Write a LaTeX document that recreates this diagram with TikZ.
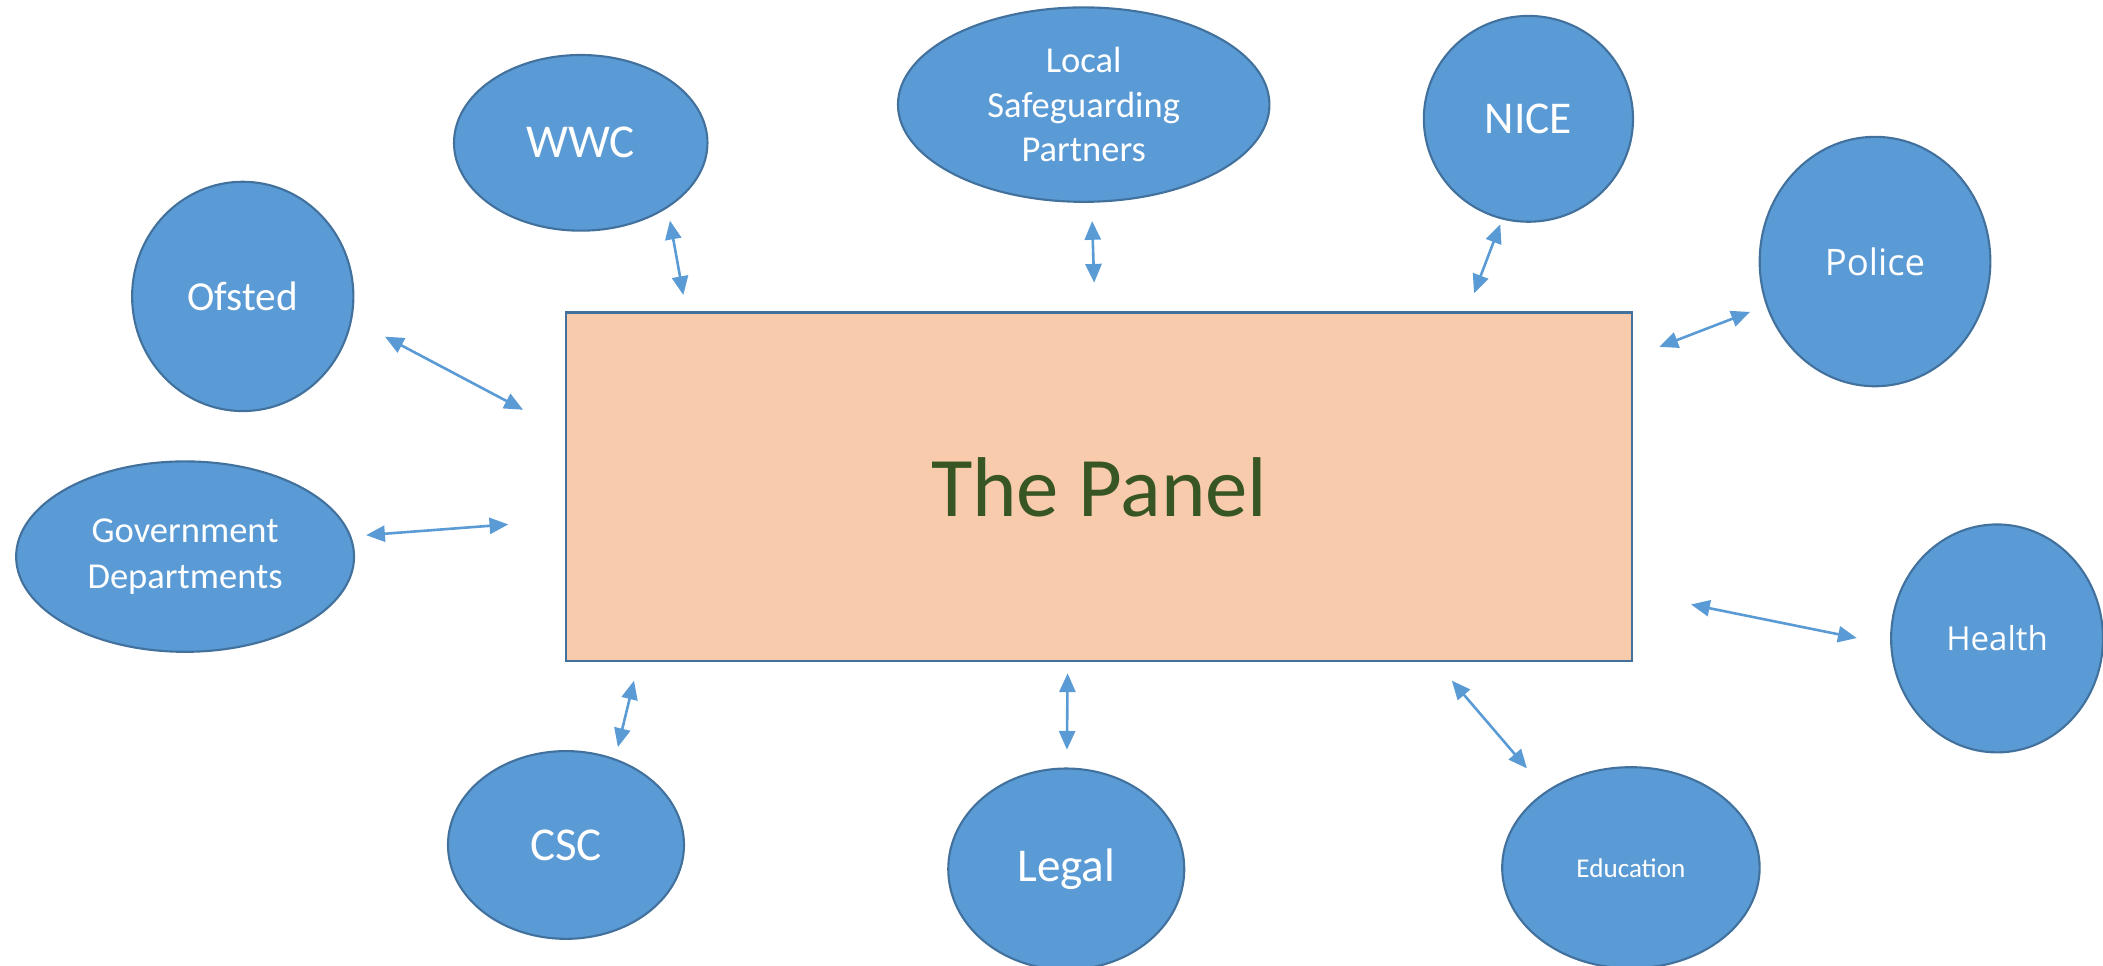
\documentclass[tikz,border=0pt]{standalone}
\usepackage{fontspec}
\setmainfont{Carlito}
\newfontfamily\roundfont{Open Sans}
\usepackage{tikz}
\usetikzlibrary{shapes.geometric,arrows.meta}

\definecolor{agencyblue}{HTML}{5B9BD5}
\definecolor{rimblue}{HTML}{41719C}
\definecolor{panelpeach}{HTML}{F8CBAD}
\definecolor{panelgreen}{HTML}{375623}

\newcommand{\fsz}[2]{\fontsize{#1}{#2}\selectfont}

\begin{document}
\begin{tikzpicture}[x=0.02cm, y=-0.02cm,
    agency/.style={draw=rimblue, fill=agencyblue, ellipse, line width=0.9pt, inner sep=0pt, text=white, align=center},
    link/.style={<->, >={Triangle[length=0.28cm, width=0.24cm]}, draw=agencyblue, line width=1.1pt}]
    \useasboundingbox (0,0) rectangle (1568,720);

    % the panel in the middle
    \node (panel) [draw=rimblue, fill=panelpeach, line width=0.9pt, minimum width=15.9cm, minimum height=5.2cm, text=panelgreen, font=\fsz{36}{40}] at (819.5,363) {The Panel};

    % agencies round the panel
    \node (ofsted) [agency, minimum width=3.3cm, minimum height=3.42cm, font=\fsz{17.5}{21}] at (181,221) {Ofsted};
    \node (wwc) [agency, minimum width=3.78cm, minimum height=2.62cm, font=\fsz{20}{24}] at (433,106.5) {WWC};
    \node (lsp) [agency, minimum width=5.54cm, minimum height=2.9cm, font=\fsz{15.5}{18.8}] at (808,78) {Local\\Safeguarding\\Partners};
    \node (nice) [agency, minimum width=3.12cm, minimum height=3.07cm, font=\fsz{19.3}{23}] at (1139.6,88.6) {NICE};
    \node (police) [agency, minimum width=3.44cm, minimum height=3.72cm, font=\roundfont\fsz{15.5}{19}] at (1398,195) {Police};
    \node (health) [agency, minimum width=3.16cm, minimum height=3.4cm, font=\roundfont\fsz{14}{17}] at (1489,476) {Health};
    \node (education) [agency, minimum width=3.84cm, minimum height=3cm, font=\fsz{11.5}{14}] at (1216,647) {Education};
    \node (legal) [agency, minimum width=3.52cm, minimum height=3cm, font=\fsz{20}{24}] at (795,648) {Legal};
    \node (csc) [agency, minimum width=3.52cm, minimum height=2.8cm, font=\fsz{20}{24}] at (422,630) {CSC};
    \node (govt) [agency, minimum width=5.04cm, minimum height=2.84cm, font=\fsz{15.5}{19.4}] at (138,415) {Government\\Departments};

    % free arrow ends
    \coordinate (ofsted-end) at (287,251);   \coordinate (ofsted-tip) at (390,305.5);
    \coordinate (govt-end) at (273,399);     \coordinate (govt-tip) at (379,391);
    \coordinate (wwc-end) at (499.5,164.5);  \coordinate (wwc-tip) at (509.5,220);
    \coordinate (lsp-end) at (814.3,164.8);  \coordinate (lsp-tip) at (815.8,210.8);
    \coordinate (nice-end) at (1118.6,167.3); \coordinate (nice-tip) at (1099,218.7);
    \coordinate (police-end) at (1304.8,232.6); \coordinate (police-tip) at (1237.2,258.6);
    \coordinate (health-end) at (1384.4,475.7); \coordinate (health-tip) at (1260.8,450.7);
    \coordinate (edu-end) at (1138.5,572.9);  \coordinate (edu-tip) at (1082.5,507.5);
    \coordinate (legal-end) at (795.5,559);  \coordinate (legal-tip) at (796,502);
    \coordinate (csc-end) at (460.7,557);    \coordinate (csc-tip) at (472.7,507.5);

    \draw[link] (ofsted-end) -- (ofsted-tip);
    \draw[link] (govt-end) -- (govt-tip);
    \draw[link] (wwc-end) -- (wwc-tip);
    \draw[link] (lsp-end) -- (lsp-tip);
    \draw[link] (nice-end) -- (nice-tip);
    \draw[link] (police-end) -- (police-tip);
    \draw[link] (health-end) -- (health-tip);
    \draw[link] (edu-end) -- (edu-tip);
    \draw[link] (legal-end) -- (legal-tip);
    \draw[link] (csc-end) -- (csc-tip);
\end{tikzpicture}
\end{document}
